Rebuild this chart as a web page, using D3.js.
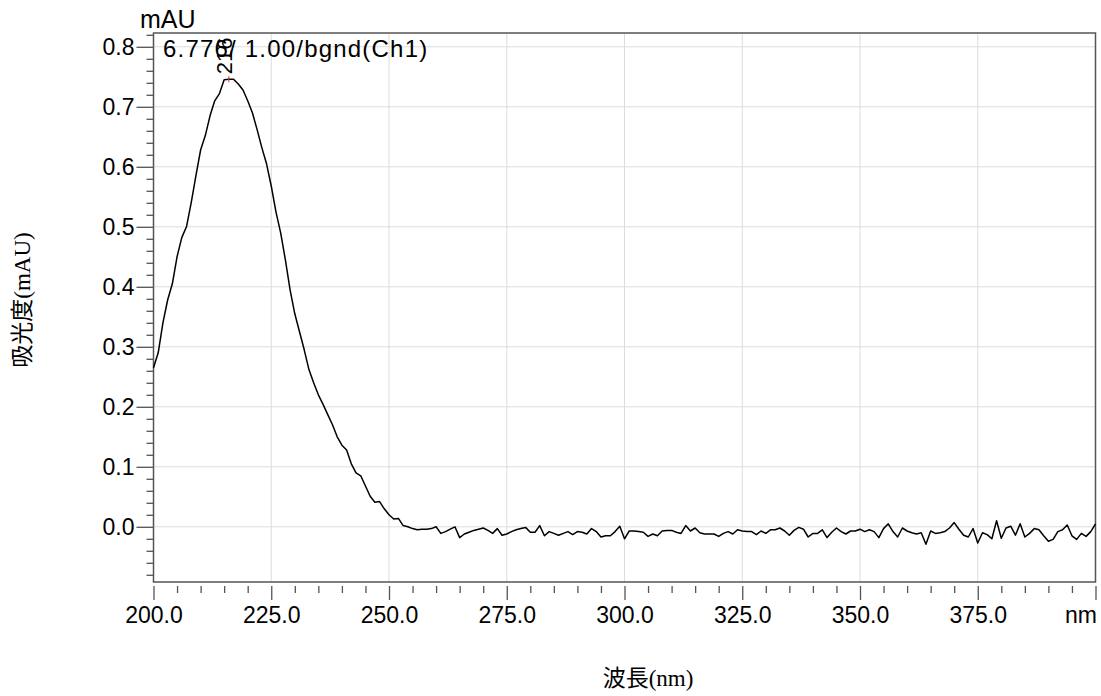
<!DOCTYPE html>
<html>
<style type="text/css">
body {margin: 0; background: #fff;}
.tick text {font-family: "Liberation Sans", Arial, sans-serif; font-size: 23px; fill: #000;}
.tick line {stroke: #555; stroke-width: 1.3;}
.grid line {stroke: #dcdcdc; stroke-width: 1;}
.lbl {font-family: "Liberation Sans", Arial, sans-serif; fill: #000;}
.title {font-family: "Liberation Serif", "Noto Sans CJK JP", serif; font-size: 23px; fill: #000;}
</style>
<head>
    <script src="https://d3js.org/d3.v7.min.js"></script>
</head>
<body>
<svg width="1101" height="696"></svg>
<script>

// wavelength (nm)
var wavelengths = [
  200,201,202,203,204,205,206,207,208,209,
  210,211,212,213,214,215,216,217,218,219,
  220,221,222,223,224,225,226,227,228,229,
  230,231,232,233,234,235,236,237,238,239,
  240,241,242,243,244,245,246,247,248,249,
  250,251,252,253,254,255,256,257,258,259,
  260,261,262,263,264,265,266,267,268,269,
  270,271,272,273,274,275,276,277,278,279,
  280,281,282,283,284,285,286,287,288,289,
  290,291,292,293,294,295,296,297,298,299,
  300,301,302,303,304,305,306,307,308,309,
  310,311,312,313,314,315,316,317,318,319,
  320,321,322,323,324,325,326,327,328,329,
  330,331,332,333,334,335,336,337,338,339,
  340,341,342,343,344,345,346,347,348,349,
  350,351,352,353,354,355,356,357,358,359,
  360,361,362,363,364,365,366,367,368,369,
  370,371,372,373,374,375,376,377,378,379,
  380,381,382,383,384,385,386,387,388,389,
  390,391,392,393,394,395,396,397,398,399,
  400
];

// absorbance (mAU)
var absorbance = [
  0.265,0.290,0.340,0.378,0.405,0.450,0.482,0.500,0.540,0.585,
  0.628,0.652,0.685,0.710,0.722,0.745,0.746,0.746,0.738,0.728,
  0.710,0.690,0.662,0.632,0.605,0.568,0.525,0.490,0.445,0.395,
  0.355,0.325,0.295,0.262,0.240,0.220,0.204,0.187,0.170,0.150,
  0.136,0.128,0.105,0.090,0.085,0.068,0.051,0.041,0.042,0.030,
  0.020,0.013,0.014,0.002,0.000,-0.003,-0.005,-0.004,-0.004,-0.003,
  0.000,-0.011,-0.008,-0.004,0.000,-0.018,-0.012,-0.009,-0.006,-0.004,
  -0.002,-0.006,-0.011,-0.003,-0.014,-0.012,-0.008,-0.005,-0.003,-0.001,
  -0.009,-0.009,0.002,-0.015,-0.008,-0.011,-0.014,-0.011,-0.008,-0.013,
  -0.008,-0.009,-0.012,-0.003,-0.008,-0.017,-0.015,-0.015,-0.008,0.001,
  -0.020,-0.007,-0.007,-0.008,-0.009,-0.016,-0.012,-0.015,-0.007,-0.006,
  -0.006,-0.009,-0.011,0.002,-0.007,-0.002,-0.010,-0.012,-0.012,-0.012,
  -0.016,-0.011,-0.008,-0.012,-0.005,-0.007,-0.008,-0.008,-0.013,-0.007,
  -0.011,-0.005,-0.005,-0.002,-0.007,-0.014,-0.006,-0.001,-0.004,-0.017,
  -0.011,-0.011,-0.005,-0.018,-0.009,-0.002,-0.008,-0.012,-0.007,-0.007,
  -0.004,-0.008,-0.005,-0.008,-0.018,-0.003,0.005,-0.008,-0.017,-0.002,
  -0.007,-0.010,-0.012,-0.010,-0.029,-0.007,-0.011,-0.010,-0.008,-0.002,
  0.007,-0.004,-0.014,-0.017,-0.003,-0.027,-0.010,-0.013,-0.020,0.010,
  -0.019,-0.002,0.001,-0.014,0.005,-0.017,-0.011,-0.003,-0.005,-0.015,
  -0.024,-0.021,-0.008,-0.005,0.003,-0.015,-0.021,-0.011,-0.016,-0.008,
  0.005
];

var xMajor = [200, 225, 250, 275, 300, 325, 350, 375, 400];
var xMinor = [205,210,215,220,230,235,240,245,255,260,265,270,280,285,290,295,
              305,310,315,320,330,335,340,345,355,360,365,370,380,385,390,395];
var xLabels = ["200.0", "225.0", "250.0", "275.0", "300.0", "325.0", "350.0", "375.0", "nm"];
var yMajor = [0.0, 0.1, 0.2, 0.3, 0.4, 0.5, 0.6, 0.7, 0.8];
var yMinor = [-0.08,-0.06,-0.04,-0.02,0.02,0.04,0.06,0.08,0.12,0.14,0.16,0.18,
              0.22,0.24,0.26,0.28,0.32,0.34,0.36,0.38,0.42,0.44,0.46,0.48,
              0.52,0.54,0.56,0.58,0.62,0.64,0.66,0.68,0.72,0.74,0.76,0.78,0.82];
var peakWl = 216, peakAbs = 0.746, peakText = "216";
var header = "6.776/ 1.00/bgnd(Ch1)";

var svg = d3.select("svg");
var plotL = 153.5, plotR = 1095.5, plotT = 33, plotB = 582;

var x = d3.scaleLinear().domain([200, 400]).range([plotL, plotR]);
var y = d3.scaleLinear().domain([-0.092, 0.823]).range([plotB, plotT]);

// grid
svg.append("g").attr("class", "grid")
  .selectAll("line").data(xMajor.slice(1, -1)).enter().append("line")
    .attr("x1", function(d) { return x(d); }).attr("x2", function(d) { return x(d); })
    .attr("y1", plotT).attr("y2", plotB);
svg.append("g").attr("class", "grid")
  .selectAll("line").data(yMajor).enter().append("line")
    .attr("y1", function(d) { return y(d); }).attr("y2", function(d) { return y(d); })
    .attr("x1", plotL).attr("x2", plotR);

// frame
svg.append("rect")
  .attr("x", plotL).attr("y", plotT)
  .attr("width", plotR - plotL).attr("height", plotB - plotT)
  .attr("fill", "none").attr("stroke", "#555").attr("stroke-width", 1.5);

// y axis
svg.append("g").attr("transform", "translate(" + plotL + ",0)")
  .call(d3.axisLeft(y).tickValues(yMinor).tickSize(7).tickFormat(""))
  .call(function(g) { g.select(".domain").remove(); });
svg.append("g").attr("transform", "translate(" + plotL + ",0)")
  .call(d3.axisLeft(y).tickValues(yMajor).tickSize(17).tickPadding(2).tickFormat(d3.format(".1f")))
  .call(function(g) { g.select(".domain").remove(); });

// x axis (ticks sit a little below the axis line)
svg.append("g").attr("transform", "translate(0," + (plotB + 4) + ")")
  .call(d3.axisBottom(x).tickValues(xMinor).tickSize(7).tickFormat(""))
  .call(function(g) { g.select(".domain").remove(); });
svg.append("g").attr("transform", "translate(0," + (plotB + 4) + ")")
  .call(d3.axisBottom(x).tickValues(xMajor).tickSize(14).tickPadding(7)
    .tickFormat(function(d, i) { return xLabels[i]; }))
  .call(function(g) {
    g.select(".domain").remove();
    g.selectAll(".tick text").filter(function(d) { return d === 400; })
      .attr("text-anchor", "end").attr("x", 1);
  });

// spectrum
var line = d3.line()
  .x(function(d, i) { return x(wavelengths[i]); })
  .y(function(d) { return y(d); });
svg.append("path")
  .datum(absorbance)
  .attr("d", line)
  .attr("fill", "none")
  .attr("stroke", "#000")
  .attr("stroke-width", 1.5)
  .attr("stroke-linejoin", "round");

// peak marker and label
svg.append("line")
  .attr("x1", x(peakWl)).attr("x2", x(peakWl))
  .attr("y1", y(peakAbs) - 3).attr("y2", y(peakAbs) + 3)
  .attr("stroke", "#e03030").attr("stroke-width", 1);
svg.append("text").attr("class", "lbl")
  .attr("transform", "translate(" + (x(peakWl) + 3) + "," + (y(peakAbs) - 5) + ") rotate(-90)")
  .attr("font-size", "22px")
  .text(peakText);

// header texts
svg.append("text").attr("class", "lbl")
  .attr("x", 163).attr("y", 57).attr("font-size", "24px")
  .attr("letter-spacing", "1.2px")
  .text(header);
svg.append("text").attr("class", "lbl")
  .attr("x", 140).attr("y", 28).attr("font-size", "25px")
  .text("mAU");

// axis titles
svg.append("text").attr("class", "title")
  .attr("transform", "translate(30,300) rotate(-90)")
  .attr("text-anchor", "middle")
  .text("吸光度(mAU)");
svg.append("text").attr("class", "title")
  .attr("x", 648).attr("y", 686)
  .attr("text-anchor", "middle")
  .text("波長(nm)");

</script>
</body>
</html>
